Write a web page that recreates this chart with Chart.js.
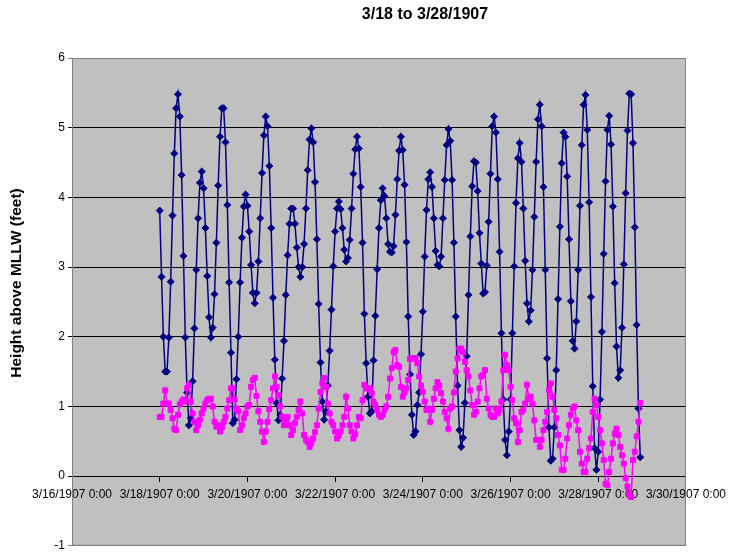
<!DOCTYPE html>
<html>
<head>
<meta charset="utf-8">
<script src="https://cdn.jsdelivr.net/npm/chart.js@4.4.0/dist/chart.umd.min.js"></script>
<style>
html, body { margin: 0; padding: 0; background: #fff; overflow: hidden; }
#wrap { width: 732px; height: 556px; }
</style>
</head>
<body>
<div id="wrap"><canvas id="myChart" width="732" height="556"></canvas></div>
<script>
// hourly readings, first one at 3/18/1907 0:00 (hours counted from 3/16/1907 0:00)
var startHour = 48;
var xTicks = ['3/16/1907 0:00', '3/18/1907 0:00', '3/20/1907 0:00', '3/22/1907 0:00',
  '3/24/1907 0:00', '3/26/1907 0:00', '3/28/1907 0:00', '3/30/1907 0:00'];
var chartTitle = '3/18 to 3/28/1907';
var yTitle = 'Height above MLLW (feet)';

// navy series, one row per day (3/18 .. 3/28)
var tideHeight = [
  3.81,2.86,2.00,1.50,1.50,1.99,2.79,3.74,4.63,5.28,5.48,5.16,4.32,3.16,1.99,1.20,0.73,0.83,1.36,2.12,2.96,3.70,4.21,4.37,
  4.13,3.56,2.87,2.28,1.99,2.13,2.61,3.35,4.17,4.87,5.28,5.28,4.79,3.89,2.78,1.77,0.76,0.81,1.39,2.00,2.78,3.42,3.87,4.04,
  3.88,3.51,3.03,2.63,2.48,2.63,3.08,3.70,4.35,4.89,5.16,5.02,4.45,3.56,2.56,1.67,1.05,0.80,0.88,1.40,1.94,2.60,3.17,3.62,
  3.84,3.84,3.62,3.28,3.00,2.86,3.00,3.33,3.84,4.39,4.83,4.99,4.79,4.22,3.40,2.47,1.63,1.07,0.81,0.93,1.30,1.80,2.39,3.01,
  3.51,3.84,3.94,3.83,3.56,3.25,3.08,3.13,3.39,3.84,4.34,4.69,4.87,4.70,4.15,3.35,2.33,1.62,1.14,0.90,0.93,1.66,2.30,2.97,
  3.56,3.96,4.13,4.02,3.70,3.33,3.22,3.21,3.30,3.75,4.26,4.67,4.87,4.68,4.18,3.36,2.29,1.46,0.88,0.59,0.64,1.02,1.20,1.75,
  2.36,3.15,3.82,4.26,4.36,4.15,3.70,3.23,3.03,3.01,3.15,3.70,4.25,4.75,4.98,4.81,4.25,3.35,2.29,1.30,0.66,0.42,0.55,1.05,
  1.72,2.60,3.44,4.16,4.52,4.50,4.09,3.49,3.05,2.62,2.64,3.02,3.65,4.34,5.02,5.16,4.93,4.26,3.22,2.05,1.10,0.52,0.30,0.64,
  1.10,2.05,3.01,3.92,4.56,4.78,4.51,3.84,3.09,2.48,2.22,2.38,2.96,3.72,4.51,5.12,5.33,5.02,4.15,2.96,1.69,0.70,0.22,0.25,
  0.70,1.52,2.54,3.58,4.49,4.93,4.87,4.30,3.40,2.51,1.94,1.83,2.22,2.96,3.88,4.75,5.33,5.47,4.97,3.93,2.57,1.29,0.40,0.09,
  0.35,1.10,2.07,3.19,4.23,4.97,5.17,4.76,3.87,2.77,1.86,1.41,1.52,2.13,3.04,4.06,4.96,5.49,5.48,4.78,3.57,2.17,0.97,0.27
];

// magenta series, same hours
var pinkHeight = [
  0.85,0.85,1.04,1.23,1.04,1.04,0.95,0.83,0.68,0.66,0.88,1.03,1.07,1.10,1.07,1.26,1.31,1.07,0.90,0.78,0.66,0.73,0.81,0.90,
  0.97,1.04,1.09,1.11,1.11,1.00,0.78,0.71,0.73,0.64,0.70,0.78,0.85,0.97,1.09,1.26,1.26,1.10,0.97,0.93,0.66,0.73,0.83,0.90,
  1.00,1.02,1.28,1.38,1.41,1.15,0.93,0.78,0.64,0.49,0.64,0.78,0.96,1.09,1.26,1.43,1.28,1.16,1.00,0.85,0.73,0.80,0.85,0.73,
  0.59,0.66,0.76,0.85,0.95,1.07,0.90,0.59,0.52,0.49,0.42,0.47,0.54,0.63,0.73,0.97,1.21,1.33,1.41,1.28,1.04,0.90,0.78,0.73,
  0.64,0.54,0.58,0.64,0.73,0.85,1.14,0.97,0.73,0.64,0.54,0.60,0.73,0.85,0.83,1.09,1.31,1.26,1.26,1.26,1.19,1.07,1.02,0.95,
  0.88,0.85,0.88,0.95,1.00,1.14,1.40,1.55,1.78,1.81,1.59,1.57,1.28,1.14,1.20,1.26,1.38,1.68,1.69,1.69,1.69,1.62,1.43,1.30,
  1.21,1.07,0.95,0.97,0.78,0.95,1.11,1.26,1.35,1.30,1.19,1.07,0.92,0.83,0.68,0.97,1.00,1.20,1.50,1.69,1.83,1.83,1.78,1.64,
  1.52,1.43,1.23,1.02,0.88,0.92,1.07,1.26,1.43,1.45,1.52,1.11,0.97,0.88,0.85,0.85,0.97,0.90,0.95,1.07,1.52,1.74,1.59,1.52,
  1.28,1.09,0.83,0.76,0.49,0.66,0.92,0.95,1.04,1.31,1.11,1.14,1.04,0.80,0.52,0.52,0.42,0.52,0.66,0.78,0.92,1.23,1.33,1.14,
  0.95,0.83,0.59,0.44,0.09,0.09,0.25,0.54,0.73,0.88,0.97,1.00,0.80,0.66,0.35,0.18,0.06,0.06,0.25,0.40,0.54,0.92,1.11,1.02,
  0.85,0.66,0.47,0.23,-0.11,-0.13,0.06,0.25,0.47,0.61,0.68,0.59,0.42,0.30,0.18,-0.03,-0.15,-0.25,-0.30,0.23,0.35,0.57,0.78,1.05
];

function toPoints(arr) {
  return arr.map(function (v, i) { return { x: startHour + i, y: v }; });
}

var FONT = '"Liberation Sans", Arial, sans-serif';

// gray plot area with a gray frame, plus the two titles (Excel puts them off-centre)
var plotArea = {
  id: 'plotArea',
  beforeDraw: function (chart) {
    var a = chart.chartArea, ctx = chart.ctx;
    ctx.save();
    ctx.fillStyle = '#c0c0c0';
    ctx.fillRect(a.left, a.top, a.right - a.left, a.bottom - a.top);
    ctx.restore();
  },
  beforeDatasetsDraw: function (chart) {
    var a = chart.chartArea, ctx = chart.ctx;
    ctx.save();
    ctx.strokeStyle = '#808080';
    ctx.lineWidth = 1;
    ctx.strokeRect(a.left + 0.5, a.top + 0.5, a.right - a.left - 1, a.bottom - a.top - 1);
    ctx.restore();
  },
  afterDraw: function (chart) {
    var ctx = chart.ctx;
    ctx.save();
    ctx.fillStyle = '#000';
    ctx.textAlign = 'center';
    ctx.textBaseline = 'middle';
    ctx.font = 'bold 16px ' + FONT;
    ctx.fillText(chartTitle, 425, 15);
    ctx.translate(17, 283);
    ctx.rotate(-Math.PI / 2);
    ctx.font = 'bold 15.5px ' + FONT;
    ctx.fillText(yTitle, 0, 0);
    ctx.restore();
  }
};

const config = {
  type: 'line',
  data: {
    datasets: [{
      label: 'Series2',
      data: toPoints(pinkHeight),
      borderColor: '#ff00ff',
      backgroundColor: '#ff00ff',
      borderWidth: 1.5,
      pointStyle: 'rect',
      pointRadius: 3.5,
      pointBorderWidth: 1,
      order: 0
    }, {
      label: 'Height',
      data: toPoints(tideHeight),
      borderColor: '#000080',
      backgroundColor: '#000080',
      borderWidth: 1.5,
      pointStyle: 'rectRot',
      pointRadius: 3.5,
      pointBorderWidth: 1,
      order: 1
    }]
  },
  options: {
    responsive: false,
    animation: false,
    devicePixelRatio: 1,
    layout: { padding: { left: 0, right: 43, top: 58, bottom: 10 } },
    scales: {
      x: {
        type: 'linear',
        position: { y: 0 },
        min: 0,
        max: 336,
        grid: { display: true, drawOnChartArea: false, drawTicks: true, tickLength: 5, color: '#000' },
        border: { display: true, color: '#000', width: 1 },
        ticks: {
          stepSize: 48,
          autoSkip: false,
          maxRotation: 0,
          padding: 6,
          color: '#000',
          font: { family: FONT, size: 12 },
          callback: function (v) { return xTicks[Math.round(v / 48)]; }
        }
      },
      y: {
        min: -1,
        max: 6,
        afterFit: function (s) { s.width = 72; },
        grid: {
          color: function (c) { return (c.tick && (c.tick.value === -1 || c.tick.value === 6)) ? '#808080' : '#000'; },
          tickLength: 4,
          drawTicks: true
        },
        border: { display: true, color: '#808080' },
        ticks: { stepSize: 1, color: '#000', padding: 3, font: { family: FONT, size: 12 } }
      }
    },
    plugins: {
      legend: { display: false },
      tooltip: { enabled: false },
      title: { display: false }
    }
  },
  plugins: [plotArea]
};

var myChart = new Chart(document.getElementById('myChart'), config);
</script>
</body>
</html>
